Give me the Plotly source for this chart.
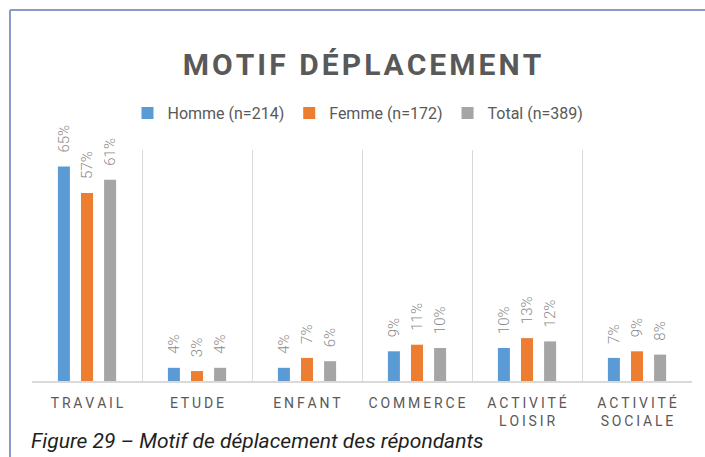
import plotly.graph_objects as go

categories = ["TRAVAIL", "ETUDE", "ENFANT", "COMMERCE", "ACTIVITÉ<br>LOISIR", "ACTIVITÉ<br>SOCIALE"]
homme = [0.65, 0.04, 0.04, 0.09, 0.10, 0.07]
femme = [0.57, 0.03, 0.07, 0.11, 0.13, 0.09]
total = [0.61, 0.04, 0.06, 0.10, 0.12, 0.08]
series_names = ["Homme (n=214)", "Femme (n=172)", "Total (n=389)"]
colors = ["#5b9bd5", "#ed7d31", "#a5a5a5"]
title_text = "MOTIF DÉPLACEMENT"
caption_text = "Figure 29 – Motif de déplacement des répondants"


def spaced(label, sep="\u2009"):
    return "<br>".join(sep.join(list(part)) for part in label.split("<br>"))


ticktext = [spaced(c) for c in categories]

fig = go.Figure()
for name, vals, col in zip(series_names, [homme, femme, total], colors):
    fig.add_trace(go.Bar(
        x=categories, y=vals, name=name, marker_color=col,
        marker_line_width=0,
        texttemplate="\u00a0\u00a0\u00a0%{y:.0%}",
        textposition="outside", textangle=-90,
        textfont=dict(family="Roboto", size=15, color="#8c8c8c", weight=300),
        constraintext="none", cliponaxis=False,
    ))

# body margin is removed by post_script, so figure fills the page
OFF = 0
W, H = 705, 457
# plot area in page pixels: x 32..692, y 150..381
L, R, T, B = 32, 705 - 692, 150, 457 - 381
pw, ph = W - L - R, H - T - B


def px(x):
    return (x - OFF - L) / pw


def py(y):
    return (H - B - (y - OFF)) / ph


border = "#8e98c9"
fig.add_shape(type="line", xref="paper", yref="paper", x0=px(10), x1=px(706), y0=py(10), y1=py(10),
              line=dict(color=border, width=2))
fig.add_shape(type="line", xref="paper", yref="paper", x0=px(10), x1=px(10), y0=py(10), y1=py(458),
              line=dict(color=border, width=2))

fig.add_annotation(text=caption_text, xref="paper", yref="paper",
                   x=px(29), y=py(441), xanchor="left", yanchor="middle", showarrow=False,
                   font=dict(family="Roboto", size=21, color="#1f1f1f", style="italic"))

fig.update_layout(
    width=W, height=H,
    margin=dict(l=L, r=R, t=T, b=B, pad=0),
    paper_bgcolor="white", plot_bgcolor="white",
    title=dict(text="<b>" + spaced(title_text, "\u200a") + "</b>", x=362 / W, xanchor="center",
               y=1 - 64 / H, yanchor="middle",
               font=dict(family="Roboto", size=30, color="#595959")),
    legend=dict(orientation="h", x=px(358), xanchor="center", y=py(113), yanchor="middle",
                font=dict(family="Roboto", size=16, color="#595959"), itemwidth=30,
                traceorder="normal"),
    bargap=0.37, bargroupgap=0.48,
    xaxis=dict(tickmode="array", tickvals=categories, ticktext=ticktext, tickson="boundaries",
               showgrid=True, gridcolor="#d9d9d9", gridwidth=1,
               showline=True, linecolor="#d9d9d9", linewidth=1.5,
               ticks="", ticklabelstandoff=8,
               tickfont=dict(family="Roboto", size=14, color="#595959")),
    yaxis=dict(range=[0, 0.70], showgrid=False, showticklabels=False, zeroline=False, showline=False),
    showlegend=True,
)

fig.write_html("out.html", config={"displayModeBar": False},
               post_script="document.body.style.margin='0';document.body.style.overflow='hidden';")
